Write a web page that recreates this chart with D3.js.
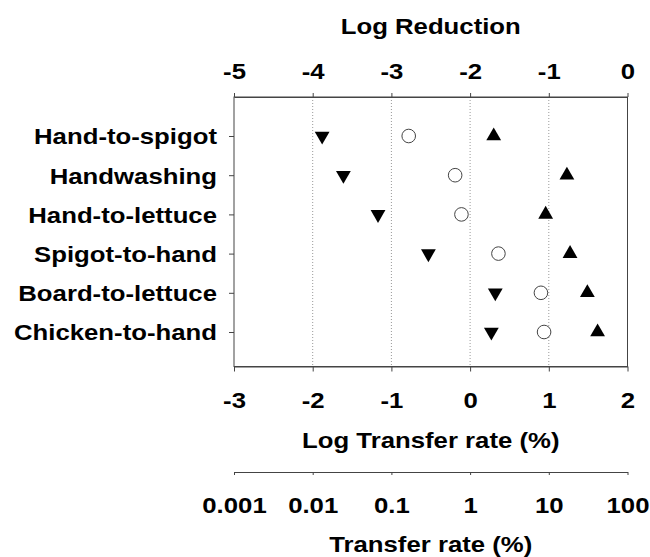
<!DOCTYPE html>
<html>
<head>
<meta charset="utf-8">
<script src="https://cdn.jsdelivr.net/npm/d3@7"></script>
<style>
  body { margin: 0; background: white; }
  text { font-family: "Liberation Sans", Arial, sans-serif; font-weight: bold; }
</style>
</head>
<body>
<div id="container"></div>
<script>

const categories = ["Hand-to-spigot", "Handwashing", "Hand-to-lettuce", "Spigot-to-hand", "Board-to-lettuce", "Chicken-to-hand"];
// log transfer rate (%) per category
const minLog = [-1.88, -1.61, -1.17, -0.53, 0.32, 0.27];
const midLog = [-0.78, -0.19, -0.11, 0.36, 0.90, 0.94];
const maxLog = [0.30, 1.23, 0.96, 1.27, 1.49, 1.62];

const reductionTicks = [-5, -4, -3, -2, -1, 0];
const logRateTicks = [-3, -2, -1, 0, 1, 2];
const rateTicks = [0.001, 0.01, 0.1, 1, 10, 100];
const rateTickLabels = ["0.001", "0.01", "0.1", "1", "10", "100"];
const gridTicks = [-2, -1, 0, 1];

const width = 650;
const height = 557;
const plotLeft = 234, plotRight = 627.5;
const plotTop = 97, plotBottom = 366.5;
const fontSize = 22;
const stretch = 1.17;   // type in the original is drawn wide

const xTop = d3.scaleLinear().domain([-5, 0]).range([plotLeft, plotRight]);
const x = d3.scaleLinear().domain([-3, 2]).range([plotLeft, plotRight]);
const xRate = d3.scaleLog().domain([0.001, 100]).range([plotLeft, plotRight]);
const y = d3.scalePoint().domain(categories).range([136, 332]);

const svg = d3.create("svg")
    .attr("width", width)
    .attr("height", height)
    .attr("viewBox", [0, 0, width, height]);

svg.append("rect")
    .attr("width", width).attr("height", height).attr("fill", "white");

// dotted grid
svg.append("g")
    .selectAll("line")
    .data(gridTicks)
    .join("line")
    .attr("x1", d => x(d)).attr("x2", d => x(d))
    .attr("y1", plotTop).attr("y2", plotBottom)
    .attr("stroke", "#999")
    .attr("stroke-width", 1)
    .attr("stroke-dasharray", "1,2");

// frame
svg.append("rect")
    .attr("x", plotLeft).attr("y", plotTop)
    .attr("width", plotRight - plotLeft).attr("height", plotBottom - plotTop)
    .attr("fill", "none")
    .attr("stroke", "#444")
    .attr("stroke-width", 1);

function styleAxis(g) {
    g.attr("font-size", fontSize).attr("font-family", null);
    g.selectAll(".domain").attr("stroke", "#444");
    g.selectAll(".tick line").attr("stroke", "#444");
    g.selectAll(".tick text")
        .attr("fill", "black")
        .attr("transform", `scale(${stretch},1)`);
}

// top axis: log reduction
svg.append("g")
    .attr("transform", `translate(0,${plotTop})`)
    .call(d3.axisTop(xTop).tickValues(reductionTicks).tickSize(4).tickSizeOuter(0).tickPadding(14).tickFormat(d => String(d)))
    .call(styleAxis);

// bottom axis: log transfer rate
svg.append("g")
    .attr("transform", `translate(0,${plotBottom})`)
    .call(d3.axisBottom(x).tickValues(logRateTicks).tickSize(5).tickSizeOuter(0).tickPadding(21).tickFormat(d => String(d)))
    .call(styleAxis);

// lower axis: transfer rate
svg.append("g")
    .attr("transform", "translate(0,472)")
    .call(d3.axisBottom(xRate).tickValues(rateTicks).tickSize(3).tickSizeOuter(0).tickPadding(22.5)
        .tickFormat((d, i) => rateTickLabels[i]))
    .call(styleAxis);

// category axis
svg.append("g")
    .attr("transform", `translate(${plotLeft},0)`)
    .call(d3.axisLeft(y).tickSize(5).tickSizeOuter(0))
    .call(styleAxis)
    .call(g => g.select(".domain").remove())
    .call(g => g.selectAll(".tick text")
        .attr("x", 0)
        .attr("dy", "0.36em")
        .attr("transform", `translate(-17,0) scale(${stretch},1)`));

// axis titles
const titles = [
    {text: "Log Reduction", y: 34},
    {text: "Log Transfer rate (%)", y: 448},
    {text: "Transfer rate (%)", y: 552}
];
svg.append("g")
    .selectAll("text")
    .data(titles)
    .join("text")
    .attr("transform", d => `translate(${(plotLeft + plotRight) / 2},${d.y}) scale(${stretch},1)`)
    .attr("text-anchor", "middle")
    .attr("font-size", fontSize)
    .attr("fill", "black")
    .text(d => d.text);

const tri = d3.symbol().type(d3.symbolTriangle).size(95);

// minimum: down triangle
svg.append("g")
    .selectAll("path")
    .data(categories)
    .join("path")
    .attr("d", tri)
    .attr("transform", (d, i) => `translate(${x(minLog[i])},${y(d)}) rotate(180)`)
    .attr("fill", "black");

// mean: open circle
svg.append("g")
    .selectAll("circle")
    .data(categories)
    .join("circle")
    .attr("cx", (d, i) => x(midLog[i]))
    .attr("cy", d => y(d))
    .attr("r", 6.8)
    .attr("fill", "white")
    .attr("stroke", "#444")
    .attr("stroke-width", 1);

// maximum: up triangle
svg.append("g")
    .selectAll("path")
    .data(categories)
    .join("path")
    .attr("d", tri)
    .attr("transform", (d, i) => `translate(${x(maxLog[i])},${y(d)})`)
    .attr("fill", "black");

document.getElementById("container").append(svg.node());

</script>
</body>
</html>
